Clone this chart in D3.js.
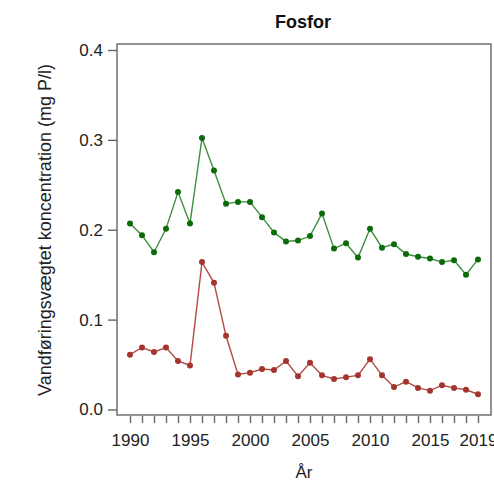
<!DOCTYPE html>
<html><head><meta charset="utf-8">
<script src="https://cdn.jsdelivr.net/npm/d3@7"></script>
<style>body{margin:0;background:#fff}svg{display:block}</style>
</head><body>
<svg id="c" width="494" height="483"></svg>
<script>
const years = d3.range(1990, 2020);
const greenVals = [0.207,0.194,0.175,0.201,0.242,0.207,0.302,0.266,0.229,0.231,0.231,0.214,0.197,0.187,0.188,0.193,0.218,0.179,0.185,0.169,0.201,0.180,0.184,0.173,0.170,0.168,0.164,0.166,0.150,0.167];
const redVals = [0.061,0.069,0.064,0.069,0.054,0.049,0.164,0.141,0.082,0.039,0.041,0.045,0.044,0.054,0.037,0.052,0.038,0.034,0.036,0.038,0.056,0.038,0.025,0.031,0.024,0.021,0.027,0.024,0.022,0.017];
const yTicks = [0.0,0.1,0.2,0.3,0.4];
const xTickLabels = [1990,1995,2000,2005,2010,2015,2019];

const svg = d3.select("#c");
const box = {l:117, r:491, t:44, b:415};
const x = d3.scaleLinear().domain([1990,2019]).range([130,478]);
const y = d3.scaleLinear().domain([0,0.4]).range([409.5,50]);
const font = "'Liberation Sans', Arial, sans-serif";
const axisCol = "#666";

svg.append("rect").attr("x",box.l).attr("y",box.t).attr("width",box.r-box.l).attr("height",box.b-box.t)
  .attr("fill","none").attr("stroke",axisCol).attr("stroke-width",1.4);

// y axis
const ya = svg.append("g").attr("transform",`translate(${box.l},0)`)
  .call(d3.axisLeft(y).tickValues(yTicks).tickFormat(d3.format(".1f")).tickSize(9).tickPadding(5));
ya.select(".domain").remove();
ya.selectAll("line").attr("stroke",axisCol).attr("stroke-width",1.4);
ya.selectAll("text").attr("font-family",font).attr("font-size",17).attr("fill","#222");

// x axis
const xa = svg.append("g").attr("transform",`translate(0,${box.b+1})`)
  .call(d3.axisBottom(x).tickValues(years).tickFormat(d=>xTickLabels.includes(d)?String(d):"").tickSize(7).tickPadding(11));
xa.select(".domain").remove();
xa.selectAll("line").attr("stroke",axisCol).attr("stroke-width",1.4);
xa.selectAll("text").attr("font-family",font).attr("font-size",17).attr("fill","#222");

function series(vals, lineCol, dotCol){
  const data = years.map((yr,i)=>({yr, v:vals[i]}));
  svg.append("path").datum(data).attr("fill","none").attr("stroke",lineCol).attr("stroke-width",1.4)
    .attr("d", d3.line().x(d=>x(d.yr)).y(d=>y(d.v)));
  svg.append("g").selectAll("circle").data(data).join("circle")
    .attr("cx",d=>x(d.yr)).attr("cy",d=>y(d.v)).attr("r",3).attr("fill",dotCol);
}
series(greenVals, "#3d8f3d", "#0b6b0b");
series(redVals, "#b24a42", "#a3352e");

svg.append("text").attr("x",303).attr("y",28).attr("text-anchor","middle")
  .attr("font-family",font).attr("font-size",18).attr("font-weight","bold").attr("fill","#111").text("Fosfor");
svg.append("text").attr("x",304).attr("y",478).attr("text-anchor","middle")
  .attr("font-family",font).attr("font-size",17).attr("fill","#222").text("År");
svg.append("text").attr("transform","translate(51,230) rotate(-90)").attr("text-anchor","middle")
  .attr("font-family",font).attr("font-size",18).attr("fill","#222").text("Vandføringsvægtet koncentration (mg P/l)");
</script>
</body></html>
